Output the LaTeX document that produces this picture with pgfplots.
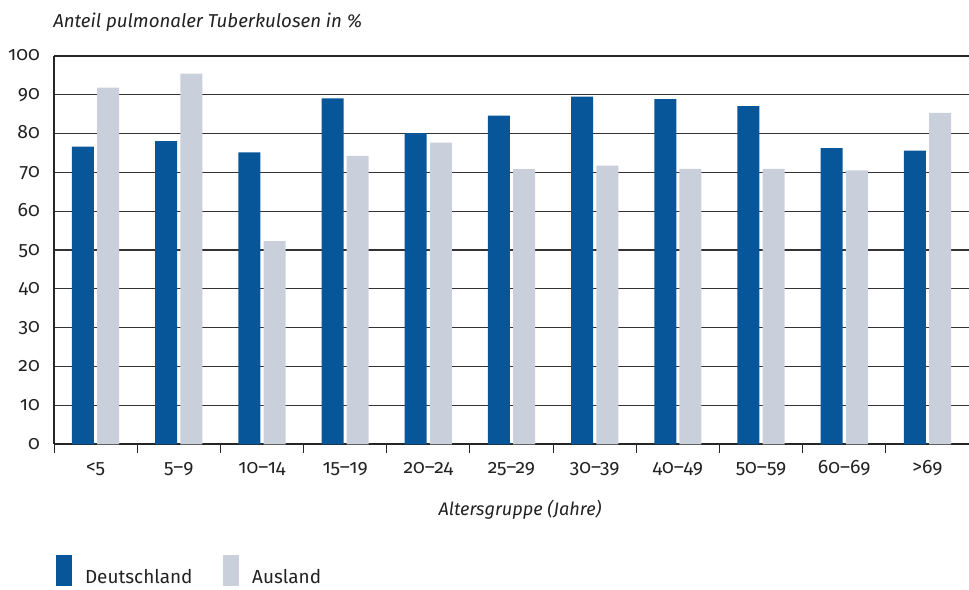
\documentclass[border=0pt]{standalone}
\usepackage{fontspec}
\setmainfont{Fira Sans}[Numbers=OldStyle]
\usepackage{pgfplots}
\pgfplotsset{compat=1.18}
\definecolor{dblue}{HTML}{08569A}
\definecolor{lgray}{HTML}{C9D0DB}
\definecolor{txt}{HTML}{222222}
\begin{document}
\begin{tikzpicture}[x=0.75pt,y=0.75pt]
\useasboundingbox (0,0) rectangle (969,589);
\begin{axis}[
  at={(40.5pt,108.525pt)}, anchor=south west,
  scale only axis, width=686.25pt, height=291.45pt,
  xmin=-0.5, xmax=10.5, ymin=0, ymax=100,
  ybar=2.4pt, bar width=16.5pt,
  axis x line=bottom, axis y line=left,
  axis line style={-},
  x axis line style={line width=1.5pt, color=black!85},
  y axis line style={line width=0.8pt, color=black!85},
  xtick={0,...,10},
  xticklabels={<5,5–9,10–14,15–19,20–24,25–29,30–39,40–49,50–59,60–69,>69},
  minor xtick={-0.5,0.5,...,10.5},
  ytick={0,10,...,90},
  extra y ticks={100},
  extra y tick style={grid style={line width=1.5pt, color=black!85}},
  major tick length=0pt, minor tick length=6.75pt, tick align=outside,
  minor tick style={line width=0.75pt, color=black!85},
  ymajorgrids, grid style={line width=0.9pt, color=black!80},
  /pgf/number format/assume math mode=true,
  ticklabel style={font=\fontsize{14.5}{14.5}\selectfont, text=txt, inner sep=0pt},
  yticklabel style={anchor=base east, xshift=-10.5pt, yshift=-3.8pt},
  xticklabel style={anchor=base, yshift=-21.75pt},
  legend columns=2,
  legend style={at={(0.0022,-0.2849)}, anchor=north west, draw=none, fill=none,
    inner sep=0pt, outer sep=0pt, nodes={inner sep=0pt},
    font=\fontsize{14.2}{14.2}\selectfont, text=txt,
    /tikz/every odd column/.append style={column sep=9.75pt},
    /tikz/every even column/.append style={column sep=23pt}},
  legend image code/.code={\fill[#1] (0pt,-6.75pt) rectangle (12pt,16.5pt);},
]
\addplot[fill=dblue, draw=none] coordinates {(0,76.6) (1,78.0) (2,75.1) (3,89.0) (4,80.1) (5,84.6) (6,89.5) (7,88.8) (8,87.0) (9,76.2) (10,75.6)};
\addplot[fill=lgray, draw=none] coordinates {(0,91.8) (1,95.4) (2,52.3) (3,74.2) (4,77.6) (5,70.8) (6,71.7) (7,70.9) (8,70.9) (9,70.5) (10,85.3)};
\legend{Deutschland, Ausland}
\end{axis}
\node[anchor=base west, font=\itshape\fontsize{14}{14}\selectfont, text=txt, inner sep=0pt] at (53,561) {Anteil pulmonaler Tuberkulosen in \%};
\node[anchor=base, font=\itshape\fontsize{13.6}{13.6}\selectfont, text=txt, inner sep=0pt] at (520,74) {Altersgruppe (Jahre)};
\end{tikzpicture}
\end{document}
